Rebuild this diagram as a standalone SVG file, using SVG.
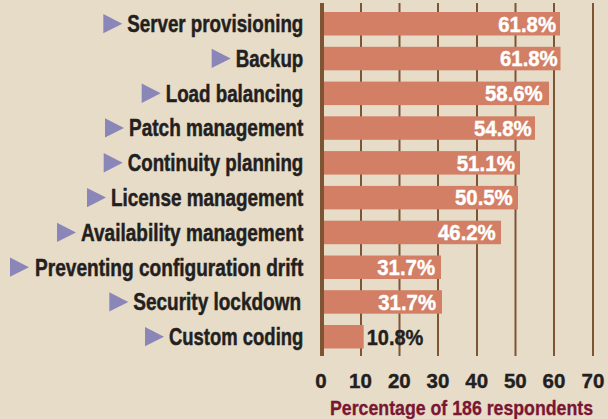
<svg xmlns="http://www.w3.org/2000/svg" width="608" height="419" viewBox="0 0 608 419">
<style>
.bg{fill:#E7DCC8}
.grid{stroke:#7D5434;stroke-width:2}
.axis{stroke:#7D5434;stroke-width:4}
.bar{fill:#D27F66}
.lbl{font-family:"Liberation Sans",Arial,sans-serif;font-weight:bold;font-size:24px;fill:#231F20;stroke:#231F20;stroke-width:0.5}
.val{font-family:"Liberation Sans",Arial,sans-serif;font-weight:bold;font-size:22px;fill:#FFFFFF;stroke:#FFFFFF;stroke-width:0.4}
.valk{fill:#231F20;stroke:#231F20}
.tick{font-family:"Liberation Sans",Arial,sans-serif;font-weight:bold;font-size:20.5px;fill:#231F20;stroke:#231F20;stroke-width:0.4;text-anchor:middle}
.title{font-family:"Liberation Sans",Arial,sans-serif;font-weight:bold;font-size:20px;fill:#7A1632;stroke:#7A1632;stroke-width:0.3}
.tri{fill:#8B86B8}
</style>
<rect class="bg" x="0" y="0" width="608" height="419"/>
<g id="gridlines">
<line class="grid" x1="361" y1="3" x2="361" y2="356"/>
<line class="grid" x1="399.5" y1="3" x2="399.5" y2="356"/>
<line class="grid" x1="438" y1="3" x2="438" y2="356"/>
<line class="grid" x1="477" y1="3" x2="477" y2="356"/>
<line class="grid" x1="515.5" y1="3" x2="515.5" y2="356"/>
<line class="grid" x1="554" y1="3" x2="554" y2="356"/>
<line class="grid" x1="593" y1="3" x2="593" y2="356"/>
</g>
<g id="bars">
<rect class="bar" x="324" y="12" width="236" height="23.5"/>
<rect class="bar" x="324" y="46.8" width="236.5" height="23.5"/>
<rect class="bar" x="324" y="81.6" width="225" height="23.5"/>
<rect class="bar" x="324" y="116.3" width="211" height="23.5"/>
<rect class="bar" x="324" y="151.1" width="196" height="23.5"/>
<rect class="bar" x="324" y="185.9" width="194" height="23.5"/>
<rect class="bar" x="324" y="220.7" width="177" height="23.5"/>
<rect class="bar" x="324" y="255.5" width="117" height="23.5"/>
<rect class="bar" x="324" y="290.2" width="118" height="23.5"/>
<rect class="bar" x="324" y="325" width="39.7" height="23.5"/>
</g>
<g id="axis">
<line class="axis" x1="322" y1="3" x2="322" y2="356"/>
</g>
<g id="labels">
<polygon class="tri" points="103.3,14 103.3,33.3 122.3,23.7"/>
<text class="lbl" x="127.3" y="32" textLength="176" lengthAdjust="spacingAndGlyphs">Server provisioning</text>
<polygon class="tri" points="211.7,48.8 211.7,68.1 230.7,58.5"/>
<text class="lbl" x="235.7" y="66.8" textLength="67.6" lengthAdjust="spacingAndGlyphs">Backup</text>
<polygon class="tri" points="141.7,83.6 141.7,102.9 160.7,93.3"/>
<text class="lbl" x="165.7" y="101.6" textLength="137.6" lengthAdjust="spacingAndGlyphs">Load balancing</text>
<polygon class="tri" points="105,118.3 105,137.6 124,128"/>
<text class="lbl" x="129" y="136.3" textLength="174.3" lengthAdjust="spacingAndGlyphs">Patch management</text>
<polygon class="tri" points="103.7,153.1 103.7,172.4 122.7,162.8"/>
<text class="lbl" x="127.7" y="171.1" textLength="175.6" lengthAdjust="spacingAndGlyphs">Continuity planning</text>
<polygon class="tri" points="87,187.9 87,207.2 106,197.6"/>
<text class="lbl" x="111" y="205.9" textLength="192.3" lengthAdjust="spacingAndGlyphs">License management</text>
<polygon class="tri" points="57,222.7 57,242 76,232.4"/>
<text class="lbl" x="81" y="240.7" textLength="222.3" lengthAdjust="spacingAndGlyphs">Availability management</text>
<polygon class="tri" points="10,257.5 10,276.8 29,267.2"/>
<text class="lbl" x="35" y="275.5" textLength="268.3" lengthAdjust="spacingAndGlyphs">Preventing configuration drift</text>
<polygon class="tri" points="109.3,292.2 109.3,311.5 128.3,301.9"/>
<text class="lbl" x="133.3" y="310.2" textLength="167.7" lengthAdjust="spacingAndGlyphs">Security lockdown</text>
<polygon class="tri" points="145,327 145,346.3 164,336.7"/>
<text class="lbl" x="169" y="345" textLength="134.3" lengthAdjust="spacingAndGlyphs">Custom coding</text>
</g>
<g id="values">
<text class="val" x="498.3" y="31.5" textLength="57.7" lengthAdjust="spacingAndGlyphs">61.8%</text>
<text class="val" x="500" y="66.3" textLength="57.7" lengthAdjust="spacingAndGlyphs">61.8%</text>
<text class="val" x="485" y="101.1" textLength="57.7" lengthAdjust="spacingAndGlyphs">58.6%</text>
<text class="val" x="474" y="135.8" textLength="57.7" lengthAdjust="spacingAndGlyphs">54.8%</text>
<text class="val" x="456.7" y="170.6" textLength="58.3" lengthAdjust="spacingAndGlyphs">51.1%</text>
<text class="val" x="455" y="205.4" textLength="57.7" lengthAdjust="spacingAndGlyphs">50.5%</text>
<text class="val" x="438" y="240.2" textLength="57.7" lengthAdjust="spacingAndGlyphs">46.2%</text>
<text class="val" x="377.3" y="275" textLength="57.7" lengthAdjust="spacingAndGlyphs">31.7%</text>
<text class="val" x="378.3" y="309.7" textLength="57.7" lengthAdjust="spacingAndGlyphs">31.7%</text>
<text class="val valk" x="366.7" y="344.5" textLength="56.6" lengthAdjust="spacingAndGlyphs">10.8%</text>
</g>
<g id="ticks">
<text class="tick" x="321" y="388">0</text>
<text class="tick" x="360.5" y="388">10</text>
<text class="tick" x="399.3" y="388">20</text>
<text class="tick" x="438" y="388">30</text>
<text class="tick" x="476.7" y="388">40</text>
<text class="tick" x="515.3" y="388">50</text>
<text class="tick" x="554" y="388">60</text>
<text class="tick" x="593" y="388">70</text>
</g>
<text class="title" transform="translate(330 414.5) scale(0.887 1)" x="0" y="0">Percentage of 186 respondents</text>
</svg>
